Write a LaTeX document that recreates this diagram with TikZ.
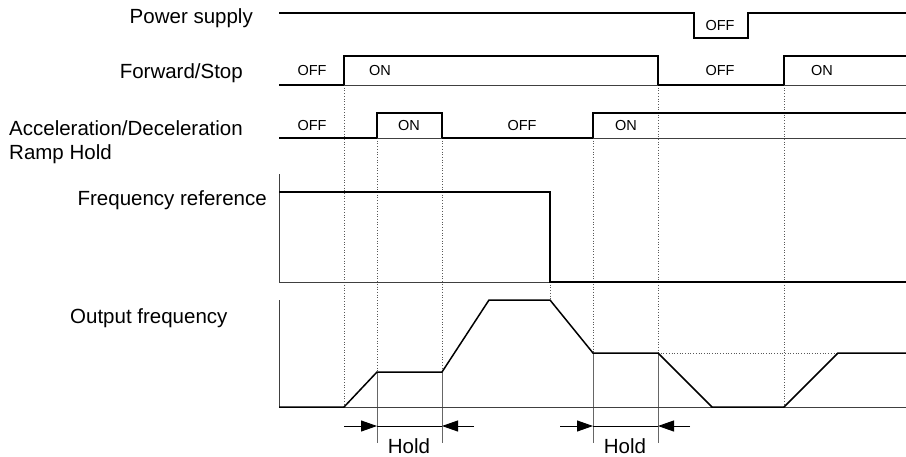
\documentclass[tikz,border=0pt]{standalone}
\usepackage{fontspec}
\setmainfont{Liberation Sans}
\usetikzlibrary{arrows.meta}
\begin{document}
\begin{tikzpicture}[x=1pt,y=-1pt,
  sig/.style={line width=1.5pt,black,line join=miter},
  axis/.style={line width=0.8pt,black!75},
  guide/.style={line width=0.7pt,black!65,dotted},
  ext/.style={line width=0.7pt,black!60},
  lbl/.style={inner sep=0pt,font=\fontsize{20.5}{24}\selectfont},
  st/.style={inner sep=0pt,font=\fontsize{14.5}{17}\selectfont},
  holdarr/.style={line width=0.9pt,-{Triangle[length=16pt,width=11pt]}},
  holdln/.style={line width=0.9pt}]
\useasboundingbox (0,0) rectangle (906,456);
% labels
\node[lbl,anchor=east] (lps) at (253,18) {Power supply};
\node[lbl,anchor=east] (lfs) at (243,73) {Forward/Stop};
\node[lbl,anchor=west] (lac) at (9,128) {Acceleration/Deceleration};
\node[lbl,anchor=west] (lrh) at (9,154) {Ramp Hold};
\node[lbl,anchor=east] (lfr) at (267,200) {Frequency reference};
\node[lbl,anchor=west] (lof) at (70,318) {Output frequency};
% guide lines
\draw[guide] (344,85) -- (344,407);
\draw[guide] (377,138) -- (377,372);
\draw[guide] (442,138) -- (442,372);
\draw[guide] (550,282) -- (550,300);
\draw[guide] (593,138) -- (593,353);
\draw[guide] (658,85) -- (658,353);
\draw[guide] (784,85) -- (784,407);
\draw[guide] (658,353) -- (838,353);
% hold extension lines
\draw[ext] (377,372) -- (377,443);
\draw[ext] (442,372) -- (442,443);
\draw[ext] (593,353) -- (593,443);
\draw[ext] (658,353) -- (658,443);
% power supply
\draw[sig] (279,13) -- (694,13) -- (694,38) -- (748,38) -- (748,13) -- (906,13);
\node[st] (ps1) at (720,26) {OFF};
% forward/stop
\draw[sig] (279,85) -- (344,85) -- (344,56) -- (658,56) -- (658,85) -- (784,85) -- (784,56) -- (906,56);
\draw[axis] (344,85) -- (658,85);
\draw[axis] (784,85) -- (906,85);
\node[st] (fs1) at (312,71) {OFF};
\node[st] (fs2) at (380,71) {ON};
\node[st] (fs3) at (720,71) {OFF};
\node[st] (fs4) at (822,71) {ON};
% accel/decel hold
\draw[sig] (279,138) -- (377,138) -- (377,113) -- (442,113) -- (442,138) -- (593,138) -- (593,113) -- (906,113);
\draw[axis] (377,138) -- (442,138);
\draw[axis] (593,138) -- (906,138);
\node[st] (ah1) at (312,126) {OFF};
\node[st] (ah2) at (409,126) {ON};
\node[st] (ah3) at (522,126) {OFF};
\node[st] (ah4) at (626,126) {ON};
% frequency reference
\draw[axis] (279,174) -- (279,282) -- (550,282);
\draw[sig] (279,192) -- (550,192) -- (550,282) -- (906,282);
% output frequency
\draw[axis] (279,300) -- (279,407) -- (906,407);
\draw[sig] (279,407) -- (344,407) -- (377,372) -- (442,372) -- (489,300) -- (550,300) -- (593,353) -- (658,353) -- (712,407) -- (784,407) -- (838,353) -- (906,353);
% hold arrows
\coordinate (h1a) at (344,426); \coordinate (h1b) at (377,426);
\coordinate (h1c) at (442,426); \coordinate (h1d) at (474,426);
\draw[holdarr] (h1a) -- (h1b);
\draw[holdln] (h1b) -- (h1c);
\draw[holdarr] (h1d) -- (h1c);
\node[lbl] (hold1) at (409,446) {Hold};
\coordinate (h2a) at (560,426); \coordinate (h2b) at (593,426);
\coordinate (h2c) at (658,426); \coordinate (h2d) at (690,426);
\draw[holdarr] (h2a) -- (h2b);
\draw[holdln] (h2b) -- (h2c);
\draw[holdarr] (h2d) -- (h2c);
\node[lbl] (hold2) at (625,446) {Hold};
\end{tikzpicture}
\end{document}
